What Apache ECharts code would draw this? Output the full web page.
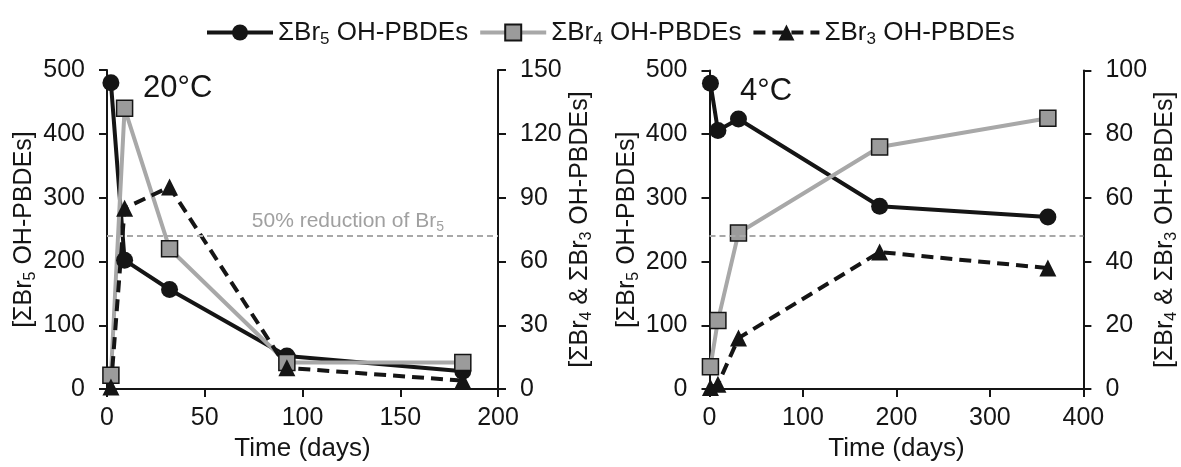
<!DOCTYPE html>
<html>
<head>
<meta charset="utf-8">
<script src="https://cdn.jsdelivr.net/npm/echarts@6/dist/echarts.min.js"></script>
<style>
  html, body { margin: 0; padding: 0; background: #fff; }
  #chart { width: 1181px; height: 467px; }
</style>
</head>
<body>
<div id="chart"></div>
<script>
// 20°C incubation
const days20 = [2, 9, 32, 92, 182];
const br5At20 = [480, 202, 156, 52, 28];
const br4At20 = [6.5, 132, 66, 12.5, 12.5];
const br3At20 = [1, 85, 95, 10, 4];

// 4°C incubation
const days4 = [1, 9, 31, 182, 362];
const br5At4 = [480, 406, 424, 287, 270];
const br4At4 = [7, 21.5, 49, 76, 85];
const br3At4 = [0.5, 1.5, 16, 43, 38];

const halfBr5 = 240;
const seriesNames = ['ΣBr5 OH-PBDEs', 'ΣBr4 OH-PBDEs', 'ΣBr3 OH-PBDEs'];

const font = 'Arial, "Liberation Sans", Helvetica, sans-serif';
const black = '#151515';
const grey = '#a8a8a8';
const squareFill = '#9b9b9b';

const sub = fs => ({ fontSize: fs, lineHeight: fs, padding: [Math.round(fs * 0.8), 0, 0, 0], fontFamily: font, color: 'inherit' });
const pairs = (xs, ys) => xs.map((x, i) => [x, ys[i]]);

const axisLine = { show: true, onZero: false, lineStyle: { color: black, width: 2 } };
const axisTick = { show: true, inside: false, length: 8, lineStyle: { color: black, width: 2 } };

function xAxis(gridIndex, max, interval) {
  return {
    type: 'value', gridIndex, min: 0, max, interval,
    axisLine, axisTick,
    splitLine: { show: false },
    axisLabel: { fontSize: 25, color: black, fontFamily: font, margin: 17 },
    name: 'Time (days)', nameLocation: 'middle', nameGap: 38,
    nameTextStyle: { fontSize: 26, color: black, fontFamily: font }
  };
}

function yAxis(gridIndex, position, max, interval, name, gap) {
  return {
    type: 'value', gridIndex, position, min: 0, max, interval,
    axisLine, axisTick,
    splitLine: { show: false },
    axisLabel: { fontSize: 25, color: black, fontFamily: font, margin: 22 },
    name, nameLocation: 'middle', nameGap: gap, nameRotate: 90,
    nameTextStyle: { fontSize: 25, color: black, fontFamily: font, rich: { s: sub(16) } }
  };
}

const br5Name = '[ΣBr{s|5} OH-PBDEs]';
const br43Name = '[ΣBr{s|4} & ΣBr{s|3} OH-PBDEs]';

function br5Series(xi, yi, data, withLabel) {
  return {
    name: seriesNames[0], type: 'line', xAxisIndex: xi, yAxisIndex: yi, data,
    symbol: 'circle', symbolSize: 17,
    lineStyle: { color: black, width: 4 },
    itemStyle: { color: black },
    markLine: {
      silent: true, symbol: 'none',
      lineStyle: { color: grey, type: [6, 4], width: 2 },
      label: withLabel ? {
        show: true, position: 'insideEndTop', distance: [54, 4],
        formatter: '50% reduction of Br{s|5}',
        color: '#a0a0a0', fontSize: 21, fontFamily: font,
        rich: { s: Object.assign(sub(14), { color: '#a0a0a0' }) }
      } : { show: false },
      data: [{ yAxis: halfBr5 }]
    }
  };
}

function br4Series(xi, yi, data) {
  return {
    name: seriesNames[1], type: 'line', xAxisIndex: xi, yAxisIndex: yi, data,
    symbol: 'rect', symbolSize: 16,
    lineStyle: { color: grey, width: 4 },
    itemStyle: { color: squareFill, borderColor: black, borderWidth: 1.5 }
  };
}

function br3Series(xi, yi, data) {
  return {
    name: seriesNames[2], type: 'line', xAxisIndex: xi, yAxisIndex: yi, data,
    symbol: 'triangle', symbolSize: 17,
    lineStyle: { color: black, width: 4, type: [12, 7] },
    itemStyle: { color: black }
  };
}

const chart = echarts.init(document.getElementById('chart'));
chart.setOption({
  animation: false,
  backgroundColor: '#fff',
  title: [
    { text: '20°C', left: 143, top: 73, padding: 0, textStyle: { fontSize: 31, fontWeight: 'normal', color: black, fontFamily: font } },
    { text: '4°C', left: 740, top: 76, padding: 0, textStyle: { fontSize: 31, fontWeight: 'normal', color: black, fontFamily: font } }
  ],
  legend: {
    data: seriesNames, left: 200, top: 12,
    itemWidth: 66, itemHeight: 20, itemGap: 10,
    lineStyle: { width: 4 },
    formatter: n => n.replace(/Br(\d)/, 'Br{s|$1}'),
    textStyle: { fontSize: 26, color: black, fontFamily: font, rich: { s: sub(17) } }
  },
  grid: [
    { left: 107, top: 70, width: 391, height: 327.5 },
    { left: 709.5, top: 70.5, width: 388.5, height: 327 }
  ],
  xAxis: [xAxis(0, 200, 50), xAxis(1, 400, 100)],
  yAxis: [
    yAxis(0, 'left', 500, 100, br5Name, 70),
    yAxis(0, 'right', 150, 30, br43Name, 70),
    yAxis(1, 'left', 500, 100, br5Name, 70),
    yAxis(1, 'right', 100, 20, br43Name, 56)
  ],
  series: [
    br5Series(0, 0, pairs(days20, br5At20), true),
    br4Series(0, 1, pairs(days20, br4At20)),
    br3Series(0, 1, pairs(days20, br3At20)),
    br5Series(1, 2, pairs(days4, br5At4), false),
    br4Series(1, 3, pairs(days4, br4At4)),
    br3Series(1, 3, pairs(days4, br3At4))
  ]
});
</script>
</body>
</html>
